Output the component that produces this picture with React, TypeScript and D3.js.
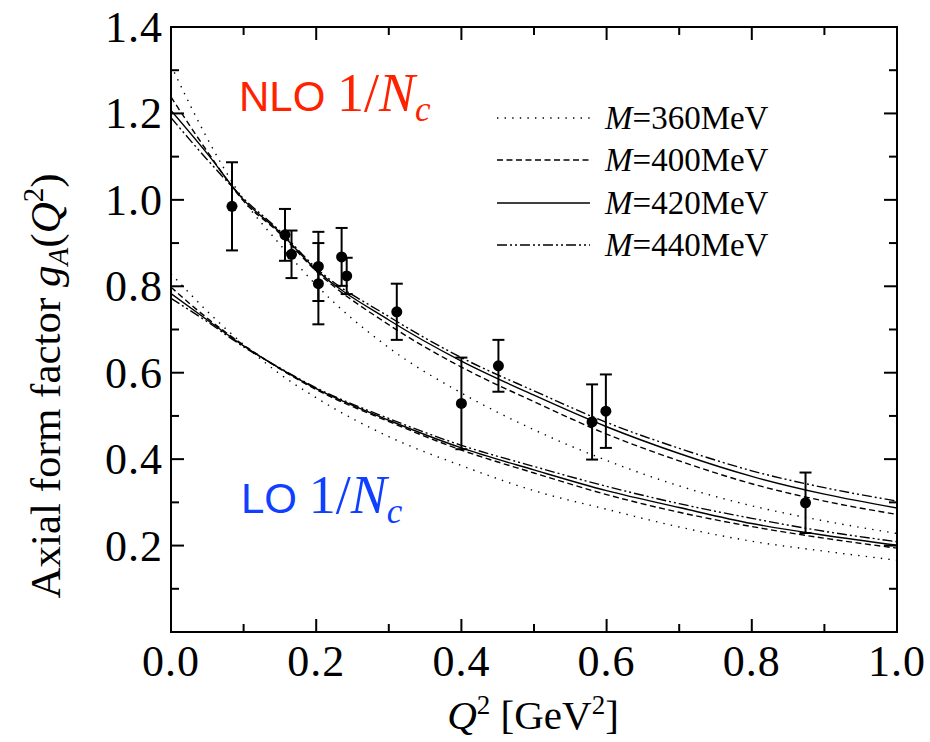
import React from "react";
import * as d3 from "d3";

// ---- data ----
const qGrid = [0, 0.05, 0.1, 0.15, 0.2, 0.3, 0.4, 0.5, 0.6, 0.7, 0.8, 0.9, 1.0];

const nlo360 = [1.311, 1.142, 1.0, 0.897, 0.803, 0.658, 0.553, 0.468, 0.397, 0.338, 0.292, 0.257, 0.228];
const nlo400 = [1.238, 1.112, 0.997, 0.922, 0.835, 0.711, 0.613, 0.533, 0.458, 0.396, 0.343, 0.303, 0.272];
const nlo420 = [1.207, 1.107, 1.0, 0.925, 0.838, 0.722, 0.627, 0.548, 0.475, 0.413, 0.36, 0.319, 0.287];
const nlo440 = [1.19, 1.093, 1.003, 0.928, 0.842, 0.73, 0.635, 0.558, 0.485, 0.425, 0.373, 0.334, 0.303];

const lo360 = [0.829, 0.742, 0.665, 0.597, 0.542, 0.452, 0.385, 0.327, 0.284, 0.243, 0.21, 0.187, 0.166];
const lo400 = [0.798, 0.726, 0.664, 0.609, 0.561, 0.487, 0.421, 0.368, 0.318, 0.277, 0.244, 0.217, 0.194];
const lo420 = [0.783, 0.722, 0.662, 0.61, 0.563, 0.49, 0.426, 0.375, 0.327, 0.288, 0.251, 0.224, 0.201];
const lo440 = [0.772, 0.718, 0.66, 0.611, 0.565, 0.494, 0.432, 0.383, 0.337, 0.297, 0.263, 0.233, 0.209];

const dataQ2 = [0.084, 0.157, 0.166, 0.203, 0.203, 0.235, 0.242, 0.311, 0.4, 0.451, 0.58, 0.599, 0.874];
const dataGA = [0.985, 0.919, 0.874, 0.846, 0.806, 0.868, 0.824, 0.741, 0.529, 0.616, 0.486, 0.511, 0.299];
const dataErr = [0.102, 0.06, 0.055, 0.08, 0.094, 0.067, 0.042, 0.065, 0.106, 0.06, 0.087, 0.085, 0.07];

const legendLabels = ["360", "400", "420", "440"];
const xTickLabels = ["0.0", "0.2", "0.4", "0.6", "0.8", "1.0"];
const yTickLabels = ["0.2", "0.4", "0.6", "0.8", "1.0", "1.2", "1.4"];

// ---- styles ----
const dashes = ["1.4 6.2", "6 3.5", "", "10 3 2 3 2 3"];
const W = 930, H = 742;
const L = 171, R = 897, T = 27, B = 632;
const serif = "Liberation Serif, Times New Roman, serif";
const sans = "Liberation Sans, Arial, sans-serif";

export default function App() {
  const x = d3.scaleLinear().domain([0, 1]).range([L, R]);
  const y = d3.scaleLinear().domain([0, 1.4]).range([B, T]);
  const line = d3
    .line<number>()
    .x((_, i) => x(qGrid[i]))
    .y((d) => y(d))
    .curve(d3.curveMonotoneX);

  const nloSeries = [nlo360, nlo400, nlo420, nlo440];
  const loSeries = [lo360, lo400, lo420, lo440];

  const xMinor = d3.range(0, 1.0001, 0.1);
  const yMinor = d3.range(0, 1.4001, 0.1);
  const isMajor = (v: number) => Math.abs(Math.round(v * 10) % 2) === 0;

  const legendY = [118, 160, 203, 245];

  return (
    <svg width={W} height={H} style={{ position: "absolute", left: 0, top: 0, background: "#fff" }}>
      <defs>
        <clipPath id="plot">
          <rect x={L} y={T} width={R - L} height={B - T} />
        </clipPath>
      </defs>
      <rect x={0} y={0} width={W} height={H} fill="#fff" />

      {/* curves */}
      <g clipPath="url(#plot)" fill="none" stroke="#000" strokeWidth={1.4}>
        {nloSeries.map((s, k) => (
          <path key={"n" + k} d={line(s) || ""} strokeDasharray={dashes[k]} />
        ))}
        {loSeries.map((s, k) => (
          <path key={"l" + k} d={line(s) || ""} strokeDasharray={dashes[k]} />
        ))}
      </g>

      {/* data points */}
      <g stroke="#000" strokeWidth={2} fill="#000">
        {dataQ2.map((q, i) => {
          const cx = x(q);
          const y1 = y(dataGA[i] + dataErr[i]);
          const y2 = y(dataGA[i] - dataErr[i]);
          return (
            <g key={i}>
              <line x1={cx} x2={cx} y1={y1} y2={y2} />
              <line x1={cx - 6} x2={cx + 6} y1={y1} y2={y1} />
              <line x1={cx - 6} x2={cx + 6} y1={y2} y2={y2} />
              <circle cx={cx} cy={y(dataGA[i])} r={5.5} stroke="none" />
            </g>
          );
        })}
      </g>

      {/* frame and ticks */}
      <g stroke="#000" strokeWidth={2} fill="none">
        <rect x={L} y={T} width={R - L} height={B - T} />
        {xMinor.map((v, i) => {
          const len = isMajor(v) ? 13 : 8;
          const px = x(v);
          return (
            <g key={"xt" + i}>
              <line x1={px} x2={px} y1={B} y2={B - len} />
              <line x1={px} x2={px} y1={T} y2={T + len} />
            </g>
          );
        })}
        {yMinor.map((v, i) => {
          const len = isMajor(v) ? 13 : 8;
          const py = y(v);
          return (
            <g key={"yt" + i}>
              <line x1={L} x2={L + len} y1={py} y2={py} />
              <line x1={R} x2={R - len} y1={py} y2={py} />
            </g>
          );
        })}
      </g>

      {/* tick labels */}
      <g fontFamily={serif} fontSize={44} fill="#000" letterSpacing={1}>
        {xTickLabels.map((t) => (
          <text key={"xl" + t} x={x(+t)} y={B + 44} textAnchor="middle">
            {t}
          </text>
        ))}
        {yTickLabels.map((t) => (
          <text key={"yl" + t} x={L - 8} y={y(+t) + 15} textAnchor="end">
            {t}
          </text>
        ))}
      </g>

      {/* axis titles */}
      <text x={533} y={729} textAnchor="middle" fontFamily={serif} fontSize={41}>
        <tspan fontStyle="italic">Q</tspan>
        <tspan fontSize={27} dy={-15}>2</tspan>
        <tspan dy={15}> [GeV</tspan>
        <tspan fontSize={27} dy={-15}>2</tspan>
        <tspan dy={15}>]</tspan>
      </text>
      <text
        transform="translate(60,386) rotate(-90)"
        textAnchor="middle"
        fontFamily={serif}
        fontSize={43}
      >
        <tspan>Axial form factor </tspan>
        <tspan fontStyle="italic">g</tspan>
        <tspan fontStyle="italic" fontSize={29} dy={8}>A</tspan>
        <tspan dy={-8}>(</tspan>
        <tspan fontStyle="italic">Q</tspan>
        <tspan fontSize={29} dy={-17}>2</tspan>
        <tspan dy={17}>)</tspan>
      </text>

      {/* annotations */}
      <text x={239} y={111} fill="#ff2200">
        <tspan fontFamily={sans} fontSize={42}>NLO </tspan>
        <tspan fontFamily={serif} fontSize={54}>1/</tspan>
        <tspan fontFamily={serif} fontSize={54} fontStyle="italic">N</tspan>
        <tspan fontFamily={serif} fontSize={35} fontStyle="italic" dy={10}>c</tspan>
      </text>
      <text x={241} y={513} fill="#1040ff">
        <tspan fontFamily={sans} fontSize={42}>LO </tspan>
        <tspan fontFamily={serif} fontSize={54}>1/</tspan>
        <tspan fontFamily={serif} fontSize={54} fontStyle="italic">N</tspan>
        <tspan fontFamily={serif} fontSize={35} fontStyle="italic" dy={10}>c</tspan>
      </text>

      {/* legend */}
      <g>
        {legendLabels.map((m, k) => (
          <g key={"lg" + k}>
            <line
              x1={497}
              x2={590}
              y1={legendY[k]}
              y2={legendY[k]}
              stroke="#000"
              strokeWidth={1.4}
              strokeDasharray={dashes[k]}
            />
            <text x={605} y={legendY[k] + 11} fontFamily={serif} fontSize={33}>
              <tspan fontStyle="italic">M</tspan>
              <tspan>={m}MeV</tspan>
            </text>
          </g>
        ))}
      </g>
    </svg>
  );
}
